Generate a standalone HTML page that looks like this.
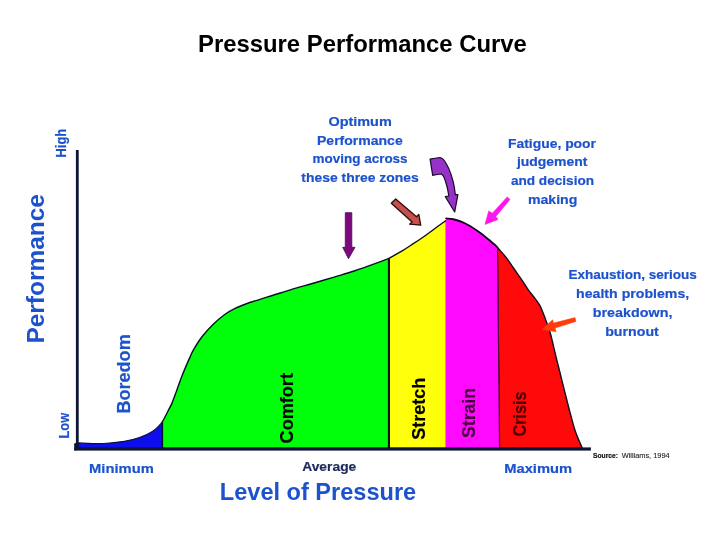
<!DOCTYPE html>
<html lang="en"><head><meta charset="utf-8"><title>Pressure Performance Curve</title>
<style>html,body{margin:0;padding:0;background:#fff}svg{display:block}text{font-family:'Liberation Sans', sans-serif}</style></head><body>
<svg width="720" height="540" viewBox="0 0 720 540">
<rect width="720" height="540" fill="#fff"/>
<path d="M77.5 448.5 L78.3 442.9C81.5 443.0 92.2 443.6 97.8 443.6C103.4 443.6 107.1 443.2 111.7 442.8C116.3 442.4 121.0 442.0 125.6 441.1C130.2 440.2 135.7 438.8 139.4 437.6C143.1 436.4 145.0 435.6 147.8 434.1C150.6 432.6 153.7 430.6 156.1 428.6C158.5 426.6 161.3 423.1 162.4 422.0L162.4 448.5Z" fill="#0e0eec" stroke="#0a0f3c" stroke-width="1.1" stroke-linejoin="round"/>
<path d="M162.4 448.5 L162.4 421.8C163.3 420.1 166.2 414.7 167.8 411.5C169.4 408.3 170.7 406.1 172.2 402.6C173.7 399.1 175.2 394.5 176.7 390.4C178.2 386.3 179.6 382.1 181.1 378.2C182.6 374.3 184.1 370.6 185.6 367.1C187.1 363.6 188.7 360.0 190.0 357.1C191.3 354.2 191.6 353.0 193.6 349.6C195.6 346.2 198.9 340.7 202.2 336.5C205.5 332.3 209.6 327.9 213.3 324.3C217.0 320.7 220.7 317.5 224.4 314.8C228.1 312.1 231.9 310.0 235.6 308.2C239.3 306.4 242.6 305.2 246.7 303.7C250.8 302.2 256.0 300.6 260.0 299.3C264.0 298.0 265.5 297.6 270.8 296.0C276.1 294.4 284.8 291.5 291.7 289.4C298.6 287.3 305.6 285.5 312.5 283.5C319.4 281.5 326.4 279.4 333.3 277.3C340.2 275.2 347.2 273.3 354.2 271.0C361.1 268.7 369.2 265.8 375.0 263.7C380.8 261.6 386.7 259.3 389.0 258.4L389.0 448.5Z" fill="#00ff0a" stroke="#0b0f24" stroke-width="1.4" stroke-linejoin="round"/>
<path d="M389.0 448.5 L389.0 258.4C391.2 257.1 398.1 253.2 402.2 250.8C406.2 248.4 409.6 246.1 413.3 243.7C417.0 241.3 420.7 238.8 424.4 236.2C428.1 233.6 431.9 230.7 435.6 228.0C439.3 225.3 444.6 221.5 446.4 220.2L446.4 448.5Z" fill="#ffff0a" stroke="#0b0f24" stroke-width="1.4" stroke-linejoin="round"/>
<path d="M499.5 448.5 L497.4 247.4C498.8 249.1 503.4 254.0 506.1 257.4C508.8 260.8 511.0 264.4 513.5 268.0C516.0 271.6 518.4 275.1 520.9 278.7C523.4 282.3 526.0 286.5 528.3 289.8C530.6 293.0 532.9 295.7 534.8 298.2C536.6 300.7 537.9 302.1 539.4 304.7C540.9 307.3 542.2 310.8 543.5 313.9C544.8 317.0 545.7 319.8 546.9 323.2C548.1 326.6 549.1 328.8 550.6 334.3C552.1 339.8 553.9 348.3 555.9 356.3C557.9 364.3 560.2 373.6 562.4 382.3C564.6 390.9 566.7 400.0 568.9 408.2C571.1 416.4 573.2 425.0 575.4 431.5C577.6 438.0 580.9 444.8 582.0 447.4L582.0 448.5Z" fill="#ff0a0a" stroke="#0b0f24" stroke-width="1.4" stroke-linejoin="round"/>
<path d="M446.0 448.5 L446.0 218.4C447.2 218.6 450.7 218.7 453.3 219.3C455.9 219.9 458.9 220.7 461.7 221.8C464.5 222.9 467.2 224.4 470.0 226.0C472.8 227.6 475.5 229.6 478.3 231.6C481.1 233.6 483.9 235.7 486.7 237.9C489.5 240.1 493.1 243.3 495.0 245.0C496.9 246.7 497.3 247.3 497.8 247.8L499.5 448.5Z" fill="#ff0aff"/>
<path d="M446.2 218.4C447.4 218.6 450.7 218.7 453.3 219.3C455.9 219.9 458.9 220.7 461.7 221.8C464.5 222.9 467.2 224.4 470.0 226.0C472.8 227.6 475.5 229.6 478.3 231.6C481.1 233.6 483.9 235.7 486.7 237.9C489.5 240.1 493.2 243.4 495.0 245.0C496.8 246.6 497.0 247.0 497.4 247.4" fill="none" stroke="#14061c" stroke-width="1.9" stroke-linecap="round"/>
<path d="M497.4 247.4L499.5 448" stroke="#3a0a1c" stroke-width="0.9" fill="none"/>
<rect x="387.9" y="258.6" width="2" height="190" fill="#0b0f24"/>
<rect x="75.9" y="150" width="2.8" height="300" fill="#0c1634"/>
<rect x="74.3" y="447.4" width="516.6" height="3.2" fill="#0c1634"/>
<rect x="74.2" y="443" width="2.5" height="7.6" rx="1.2" fill="#0c1634"/>
<path d="M345.3 212.7H351.8V247.3H355L348.5 258.7L342.7 247.3H345.3Z" fill="#7c0a7c" stroke="#4a064a" stroke-width="0.8" stroke-linejoin="round"/>
<path d="M395.7 199L391.3 203.3L412.1 222.1L409.6 224.2L420.7 225.2L418.8 214.4L416.5 216.8Z" fill="#c8504c" stroke="#2a0a0a" stroke-width="1.3" stroke-linejoin="round"/>
<path d="M430.1 159.1Q435 158 440.1 157.5Q443.5 158.5 445.9 163Q449 168 451.1 174.6Q453.3 181 454.4 187.6L455.3 194.7L457.9 194.7L454.7 212L445.3 196.7L448.8 196Q448 190 446.6 185Q445.6 181 444 177.2Q443 175 441.4 174Q437 174.3 432.7 175.3Z" fill="#9632c8" stroke="#1a0628" stroke-width="1.2" stroke-linejoin="round"/>
<path d="M507.2 196.9L510 199.4L495.8 216.5L498 219.4L485 224.4L488.7 210.9L492.4 213.2Z" fill="#ff14f0" stroke="#ff14f0" stroke-width="0.6" stroke-linejoin="round"/>
<path d="M575 317.6L575.9 321.4L555.1 328L556.1 331.7L542 329.4L552.6 319.8L553.5 323.1Z" fill="#ff3c0a" stroke="#ff3c0a" stroke-width="0.5" stroke-linejoin="round"/>
<text stroke="#000" stroke-width="0.00" stroke-linejoin="round" x="198.0" y="51.5" font-size="23.6" font-weight="bold" fill="#000" textLength="328.8" lengthAdjust="spacingAndGlyphs">Pressure Performance Curve</text>
<text stroke="#1c52cc" stroke-width="0.00" stroke-linejoin="round" x="219.8" y="499.7" font-size="24" font-weight="bold" fill="#1c52cc" textLength="196.4" lengthAdjust="spacingAndGlyphs">Level of Pressure</text>
<text stroke="#1c52cc" stroke-width="0.00" stroke-linejoin="round" transform="translate(44.1 343.5) rotate(-90)" font-size="24" font-weight="bold" fill="#1c52cc" textLength="149.3" lengthAdjust="spacingAndGlyphs">Performance</text>
<text stroke="#1c52cc" stroke-width="0.20" stroke-linejoin="round" transform="translate(65.8 157.5) rotate(-90)" font-size="14" font-weight="bold" fill="#1c52cc" textLength="28.7" lengthAdjust="spacingAndGlyphs">High</text>
<text stroke="#1c52cc" stroke-width="0.20" stroke-linejoin="round" transform="translate(68.5 438.5) rotate(-90)" font-size="14" font-weight="bold" fill="#1c52cc" textLength="25.7" lengthAdjust="spacingAndGlyphs">Low</text>
<text stroke="#1c52cc" stroke-width="0.20" stroke-linejoin="round" transform="translate(129.6 413.6) rotate(-90)" font-size="17.8" font-weight="bold" fill="#1c52cc" textLength="79.3" lengthAdjust="spacingAndGlyphs">Boredom</text>
<text stroke="#000" stroke-width="0.20" stroke-linejoin="round" transform="translate(293.3 443.4) rotate(-90)" font-size="17.8" font-weight="bold" fill="#000" textLength="70.3" lengthAdjust="spacingAndGlyphs">Comfort</text>
<text stroke="#000" stroke-width="0.20" stroke-linejoin="round" transform="translate(424.7 439.7) rotate(-90)" font-size="17.8" font-weight="bold" fill="#000" textLength="62.0" lengthAdjust="spacingAndGlyphs">Stretch</text>
<text stroke="#48003f" stroke-width="0.20" stroke-linejoin="round" transform="translate(475.2 438.0) rotate(-90)" font-size="17.8" font-weight="bold" fill="#48003f" textLength="50.0" lengthAdjust="spacingAndGlyphs">Strain</text>
<text stroke="#4c0000" stroke-width="0.20" stroke-linejoin="round" transform="translate(526.2 436.5) rotate(-90)" font-size="17.8" font-weight="bold" fill="#4c0000" textLength="45.0" lengthAdjust="spacingAndGlyphs">Crisis</text>
<text stroke="#1c52cc" stroke-width="0.20" stroke-linejoin="round" x="89.1" y="472.7" font-size="13.7" font-weight="bold" fill="#1c52cc" textLength="64.7" lengthAdjust="spacingAndGlyphs">Minimum</text>
<text stroke="#1c2a5c" stroke-width="0.20" stroke-linejoin="round" x="302.2" y="470.8" font-size="13.7" font-weight="bold" fill="#1c2a5c" textLength="54.1" lengthAdjust="spacingAndGlyphs">Average</text>
<text stroke="#1c52cc" stroke-width="0.20" stroke-linejoin="round" x="504.2" y="472.5" font-size="13.7" font-weight="bold" fill="#1c52cc" textLength="67.9" lengthAdjust="spacingAndGlyphs">Maximum</text>
<text stroke="#111" stroke-width="0.20" stroke-linejoin="round" x="593.0" y="457.5" font-size="7" font-weight="bold" fill="#111" textLength="24.9" lengthAdjust="spacingAndGlyphs">Source:</text>
<text stroke="#222" stroke-width="0.10" stroke-linejoin="round" x="621.7" y="457.5" font-size="7" font-weight="normal" fill="#222" textLength="47.9" lengthAdjust="spacingAndGlyphs">Williams, 1994</text>
<text stroke="#1c52cc" stroke-width="0.20" stroke-linejoin="round" x="328.4" y="125.8" font-size="13.7" font-weight="bold" fill="#1c52cc" textLength="63.4" lengthAdjust="spacingAndGlyphs">Optimum</text>
<text stroke="#1c52cc" stroke-width="0.20" stroke-linejoin="round" x="317.0" y="144.5" font-size="13.7" font-weight="bold" fill="#1c52cc" textLength="85.7" lengthAdjust="spacingAndGlyphs">Performance</text>
<text stroke="#1c52cc" stroke-width="0.20" stroke-linejoin="round" x="312.5" y="163.3" font-size="13.7" font-weight="bold" fill="#1c52cc" textLength="95.1" lengthAdjust="spacingAndGlyphs">moving across</text>
<text stroke="#1c52cc" stroke-width="0.20" stroke-linejoin="round" x="301.3" y="182.2" font-size="13.7" font-weight="bold" fill="#1c52cc" textLength="117.5" lengthAdjust="spacingAndGlyphs">these three zones</text>
<text stroke="#1c52cc" stroke-width="0.20" stroke-linejoin="round" x="508.0" y="147.5" font-size="13.7" font-weight="bold" fill="#1c52cc" textLength="88.0" lengthAdjust="spacingAndGlyphs">Fatigue, poor</text>
<text stroke="#1c52cc" stroke-width="0.20" stroke-linejoin="round" x="516.9" y="166.3" font-size="13.7" font-weight="bold" fill="#1c52cc" textLength="70.6" lengthAdjust="spacingAndGlyphs">judgement</text>
<text stroke="#1c52cc" stroke-width="0.20" stroke-linejoin="round" x="510.9" y="185.0" font-size="13.7" font-weight="bold" fill="#1c52cc" textLength="83.2" lengthAdjust="spacingAndGlyphs">and decision</text>
<text stroke="#1c52cc" stroke-width="0.20" stroke-linejoin="round" x="527.9" y="203.7" font-size="13.7" font-weight="bold" fill="#1c52cc" textLength="49.5" lengthAdjust="spacingAndGlyphs">making</text>
<text stroke="#1c52cc" stroke-width="0.20" stroke-linejoin="round" x="568.4" y="279.0" font-size="13.7" font-weight="bold" fill="#1c52cc" textLength="128.5" lengthAdjust="spacingAndGlyphs">Exhaustion, serious</text>
<text stroke="#1c52cc" stroke-width="0.20" stroke-linejoin="round" x="576.1" y="297.7" font-size="13.7" font-weight="bold" fill="#1c52cc" textLength="113.1" lengthAdjust="spacingAndGlyphs">health problems,</text>
<text stroke="#1c52cc" stroke-width="0.20" stroke-linejoin="round" x="592.7" y="316.9" font-size="13.7" font-weight="bold" fill="#1c52cc" textLength="79.7" lengthAdjust="spacingAndGlyphs">breakdown,</text>
<text stroke="#1c52cc" stroke-width="0.20" stroke-linejoin="round" x="605.2" y="335.6" font-size="13.7" font-weight="bold" fill="#1c52cc" textLength="53.6" lengthAdjust="spacingAndGlyphs">burnout</text>
</svg></body></html>
